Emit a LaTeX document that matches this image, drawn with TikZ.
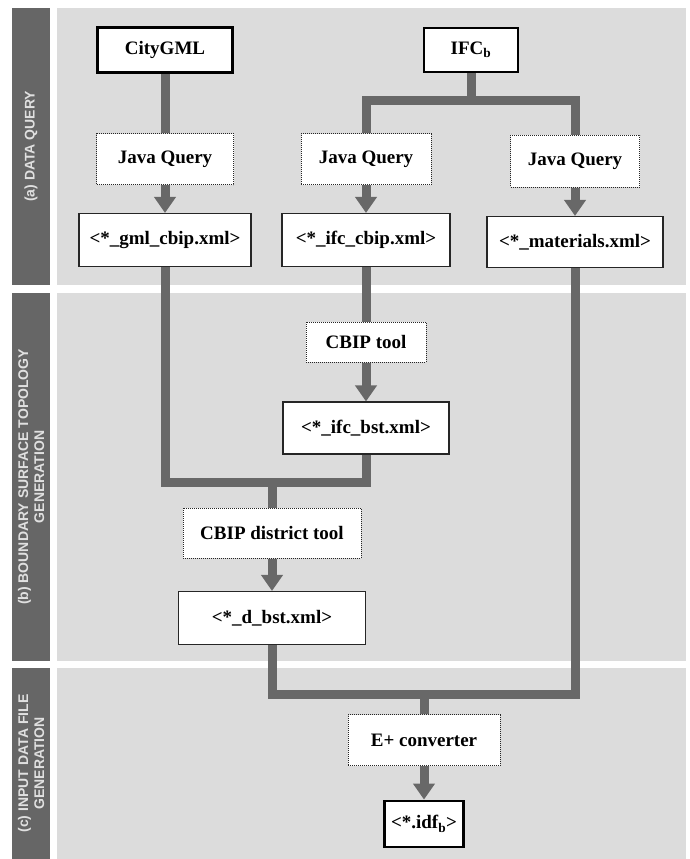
\documentclass[tikz,border=0pt]{standalone}
\usepackage{fontspec}
\setmainfont{Liberation Serif}
\newfontfamily\bandfont{Liberation Sans}
\usetikzlibrary{calc}
\usetikzlibrary{arrows.meta}

\definecolor{panelgray}{HTML}{DCDCDC}
\definecolor{bandgray}{HTML}{666666}
\definecolor{flowgray}{HTML}{686868}
\definecolor{bandtext}{HTML}{E0E0E0}

\tikzset{
    filebox/.style={draw=black!85, line width=1.1pt, fill=white, inner sep=0pt,
        font=\fontsize{19}{22}\selectfont\bfseries},
    sourcebox/.style={filebox, draw=black, line width=2.8pt},
    toolbox/.style={filebox, draw=black!85, line width=1pt, densely dotted},
    flow/.style={flowgray, line width=9pt},
    flowarrow/.style={flow, -{Triangle[width=21pt,length=16pt]}},
    phaselabel/.style={rotate=90, align=center, text=bandtext,
        font=\bandfont\bfseries\fontsize{14}{16}\selectfont}
}

\begin{document}
\begin{tikzpicture}[x=1pt,y=-1pt]
\useasboundingbox (0,0) rectangle (689,859);
\fill[white] (0,0) rectangle (689,859);

\coordinate (split) at (471,100);
\coordinate (mergea) at (272,482);
\coordinate (mergeb) at (424,694);

\newcommand{\drawphase}[4]{
    \fill[bandgray] (12,#1) rectangle (50,#2);
    \fill[panelgray] (57,#1) rectangle (686,#2);
    \node[phaselabel] (#3) at (31,{(#1+#2)/2}) {#4};
}

\newcommand{\drawphases}{
    \drawphase{8}{285}{phasea}{(a) DATA QUERY}
    \drawphase{293}{661}{phaseb}{(b) BOUNDARY SURFACE TOPOLOGY\\GENERATION}
    \drawphase{668}{859}{phasec}{(c) INPUT DATA FILE\\GENERATION}
}

\newcommand{\drawfiles}{
    \node[sourcebox, minimum width=135pt, minimum height=45pt] (city) at (165,50) {CityGML};
    \node[sourcebox, minimum width=94pt, minimum height=44pt] (ifc) at (471,50) {IFC\textsubscript{b}};
    \node[filebox, minimum width=172pt, minimum height=53pt] (gmlcbip) at (165,240) {<*\_gml\_cbip.xml>};
    \node[filebox, minimum width=168pt, minimum height=53pt] (ifccbip) at (366,240) {<*\_ifc\_cbip.xml>};
    \node[filebox, minimum width=176pt, minimum height=51pt] (materials) at (575,242) {<*\_materials.xml>};
    \node[filebox, minimum width=166pt, minimum height=52pt] (ifcbst) at (366,428) {<*\_ifc\_bst.xml>};
    \node[filebox, minimum width=187pt, minimum height=53pt] (dbst) at (272,618) {<*\_d\_bst.xml>};
    \node[sourcebox, minimum width=79pt, minimum height=46pt] (idf) at (424,824) {<*.idf\textsubscript{b}>};
}

\newcommand{\drawtools}{
    \node[toolbox, minimum width=137pt, minimum height=51pt] (jqgml) at (165,159) {Java Query};
    \node[toolbox, minimum width=130pt, minimum height=51pt] (jqifc) at (366,159) {Java Query};
    \node[toolbox, minimum width=129pt, minimum height=52pt] (jqmat) at (575,161) {Java Query};
    \node[toolbox, minimum width=120pt, minimum height=40pt] (cbiptool) at (366,342) {CBIP tool};
    \node[toolbox, minimum width=178pt, minimum height=50pt] (districttool) at (272,533) {CBIP district tool};
    \node[toolbox, minimum width=152pt, minimum height=51pt] (eplus) at (424,740) {E+ converter};
}

\newcommand{\drawflows}{
    % data query
    \draw[flow] (city.south) -- (jqgml.north);
    \draw[flow] (ifc.south) -- (split);
    \draw[flow] (jqifc.north) |- (split) -| (jqmat.north);
    \draw[flowarrow] (jqgml.south) -- (gmlcbip.north);
    \draw[flowarrow] (jqifc.south) -- (ifccbip.north);
    \draw[flowarrow] (jqmat.south) -- (materials.north);
    % topology
    \draw[flow] (ifccbip.south) -- (cbiptool.north);
    \draw[flowarrow] (cbiptool.south) -- (ifcbst.north);
    \draw[flow] (gmlcbip.south) |- (mergea) -| (ifcbst.south);
    \draw[flow] (mergea) -- (districttool.north);
    \draw[flowarrow] (districttool.south) -- (dbst.north);
    % input data file
    \draw[flow] (dbst.south) |- (mergeb) -| (materials.south);
    \draw[flow] (mergeb) -- (eplus.north);
    \draw[flowarrow] (eplus.south) -- (idf.north);
}

    \drawphases
    \drawfiles
    \drawtools
    \drawflows
\end{tikzpicture}
\end{document}
